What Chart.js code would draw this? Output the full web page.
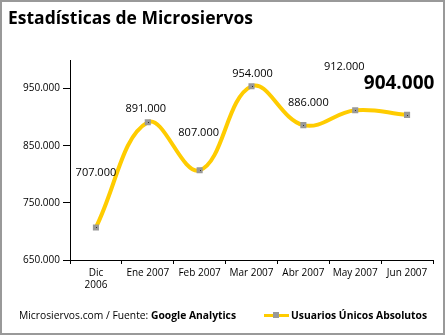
<!DOCTYPE html>
<html>
<head>
<meta charset="utf-8">
<script src="https://cdn.jsdelivr.net/npm/chart.js@4"></script>
<style>
    body { margin: 0; background: #fff; }
    #wrap { position: relative; width: 445px; height: 335px; font-family: "Open Sans", sans-serif; color: #000; }
    #chart { position: absolute; left: 0; top: 0; }
    #frame { position: absolute; left: 0; top: 0; width: 445px; height: 335px; box-sizing: border-box; border: 2px solid #999; pointer-events: none; }
    #title { position: absolute; left: 8px; top: 5px; font-size: 17.5px; font-weight: bold; white-space: nowrap; }
    #source { position: absolute; left: 19px; top: 308px; font-size: 10.3px; white-space: nowrap; }
    #legend { position: absolute; left: 264px; top: 308px; font-size: 10.3px; font-weight: bold; white-space: nowrap; }
    #legend .sym { display: inline-block; position: relative; width: 25px; height: 10px; vertical-align: -1px; margin-right: 2px; }
    #legend .sym:before { content: ""; position: absolute; left: 0; right: 0; top: 4px; height: 3px; background: #FFCC00; }
    #legend .sym:after { content: ""; position: absolute; left: 9px; top: 2px; width: 6px; height: 6px; background: #999; }
</style>
</head>
<body>
<div id="wrap">
    <canvas id="chart" width="445" height="335"></canvas>
    <div id="title">Estadísticas de Microsiervos</div>
    <div id="source">Microsiervos.com / Fuente: <b>Google Analytics</b></div>
    <div id="legend"><span class="sym"></span>Usuarios Únicos Absolutos</div>
    <div id="frame"></div>
</div>
<script>
/* ======== DATA ======== */
const months = [["Dic", "2006"], "Ene 2007", "Feb 2007", "Mar 2007", "Abr 2007", "May 2007", "Jun 2007"]
const uniqueUsers = [707000, 891000, 807000, 954000, 886000, 912000, 904000]
const yTicks = [650000, 750000, 850000, 950000]

// where each value label sits relative to its point (dx, dy)
const labelOffsets = [[0, -55], [-2, -13], [-1, -37], [1, -12], [5, -22], [-11, -43], [-8, -31]]

function formatThousands(v) {
    return String(v).replace(/\B(?=(\d{3})+(?!\d))/g, ".")
}

/* value labels + the little dot inside each marker */
const valueLabels = {
    id: 'valueLabels',
    afterDatasetsDraw(chart) {
        const ctx = chart.ctx
        const meta = chart.getDatasetMeta(0)
        ctx.save()
        ctx.textAlign = 'center'
        ctx.textBaseline = 'middle'
        meta.data.forEach((pt, i) => {
            ctx.fillStyle = '#333'
            ctx.fillRect(Math.round(pt.x), Math.round(pt.y), 1, 1)
            const last = i === meta.data.length - 1
            ctx.fillStyle = '#000'
            ctx.font = last ? 'bold 19px "Open Sans"' : '11px "Open Sans"'
            ctx.fillText(formatThousands(uniqueUsers[i]), pt.x + labelOffsets[i][0], pt.y + labelOffsets[i][1])
        })
        ctx.restore()
    }
}

const ctx = document.getElementById("chart").getContext("2d")
const usersChart = new Chart(ctx, {
    type: 'line',
    data: {
        labels: months,
        datasets: [{
            data: uniqueUsers,
            label: "Usuarios Únicos Absolutos",
            borderColor: "#FFCC00",
            borderWidth: 4,
            tension: 0.4,
            fill: false,
            pointStyle: 'rect',
            pointRadius: 4.3,
            pointBackgroundColor: "#999999",
            pointBorderWidth: 0
        }]
    },
    options: {
        responsive: false,
        animation: false,
        layout: { padding: { top: 60, right: 12, left: 0, bottom: 0 } },
        plugins: {
            legend: { display: false },
            tooltip: { enabled: false }
        },
        scales: {
            x: {
                offset: true,
                grid: { offset: true, drawOnChartArea: false, drawTicks: true, tickLength: 4, color: '#000' },
                border: { color: '#000', width: 1 },
                ticks: { color: '#000', font: { family: 'Open Sans', size: 10 }, maxRotation: 0, autoSkip: false, padding: 3 },
                afterFit(scale) { scale.height = 75 }
            },
            y: {
                min: 650000,
                max: 1000000,
                grid: { drawOnChartArea: false, drawTicks: true, tickLength: 7, color: '#000' },
                border: { color: '#000', width: 1 },
                ticks: { color: '#000', font: { family: 'Open Sans', size: 10 }, padding: 3, callback: (v) => formatThousands(v) },
                afterBuildTicks(scale) { scale.ticks = yTicks.map(v => ({ value: v })) },
                afterFit(scale) { scale.width = 70 }
            }
        }
    },
    plugins: [valueLabels]
})
</script>
</body>
</html>
